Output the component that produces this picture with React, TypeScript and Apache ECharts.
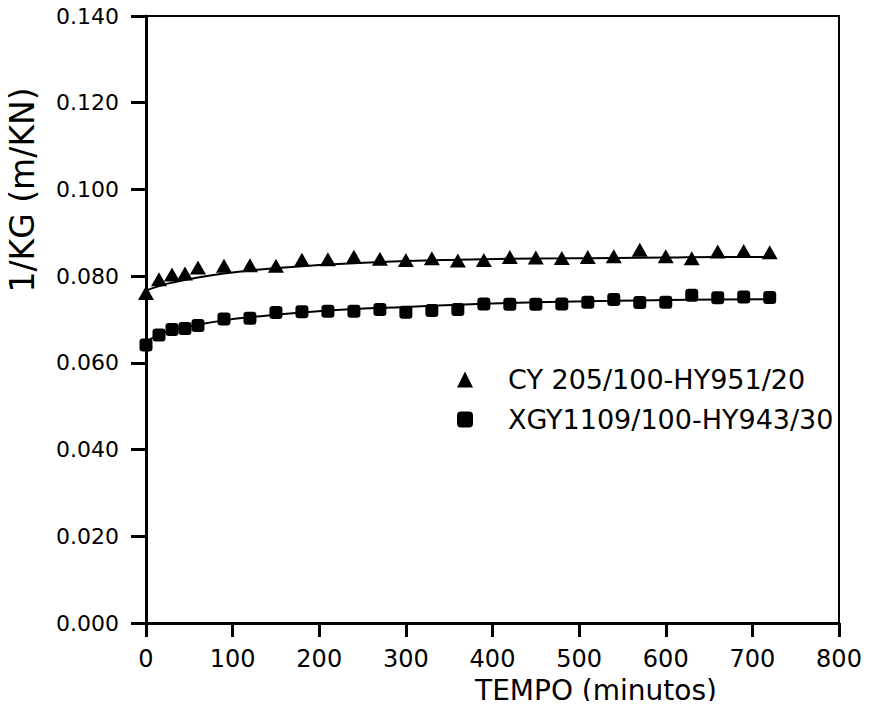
import React, { useEffect, useRef } from "react";
import * as echarts from "echarts";

const times = [0, 15, 30, 45, 60, 90, 120, 150, 180, 210, 240, 270, 300, 330, 360, 390, 420, 450, 480, 510, 540, 570, 600, 630, 660, 690, 720];
const cyValues = [0.0761, 0.0793, 0.0804, 0.0806, 0.082, 0.0824, 0.0825, 0.0824, 0.0838, 0.0839, 0.0845, 0.084, 0.0837, 0.0841, 0.0836, 0.0837, 0.0844, 0.0843, 0.0842, 0.0844, 0.0846, 0.0861, 0.0846, 0.0841, 0.0857, 0.0858, 0.0855];
const xgyValues = [0.0641, 0.0664, 0.0677, 0.0679, 0.0686, 0.0701, 0.0703, 0.0716, 0.0718, 0.0719, 0.0719, 0.0723, 0.0717, 0.0721, 0.0723, 0.0736, 0.0735, 0.0735, 0.0736, 0.074, 0.0746, 0.0739, 0.074, 0.0756, 0.075, 0.0752, 0.0751];

const fitTimes = [0, 15, 30, 60, 90, 120, 180, 240, 300, 360, 420, 480, 540, 600, 660, 720];
const cyFit = [0.0767, 0.0777, 0.0785, 0.0797, 0.0806, 0.0813, 0.0823, 0.083, 0.0835, 0.0838, 0.084, 0.0841, 0.0842, 0.0843, 0.0844, 0.0844];
const xgyFit = [0.0648, 0.0665, 0.0675, 0.0688, 0.0698, 0.0705, 0.0716, 0.0724, 0.0729, 0.0734, 0.0738, 0.0741, 0.0743, 0.0745, 0.0746, 0.0747];

const seriesNames = ["CY 205/100-HY951/20", "XGY1109/100-HY943/30"];
const xTicks = [0, 100, 200, 300, 400, 500, 600, 700, 800];
const yTicks = [0, 0.02, 0.04, 0.06, 0.08, 0.1, 0.12, 0.14];
const xTitle = "TEMPO (minutos)";
const yTitle = "1/KG (m/KN)";

const FONT = "DejaVu Sans";

export default function App() {
  const ref = useRef<HTMLDivElement>(null);
  useEffect(() => {
    if (!ref.current) return;
    const chart = echarts.init(ref.current, null, { renderer: "svg" });
    const pair = (xs: number[], ys: number[]) => xs.map((x, i) => [x, ys[i]]);
    chart.setOption({
      animation: false,
      backgroundColor: "#fff",
      grid: {
        left: 146,
        top: 16,
        right: 30,
        bottom: 86,
        show: true,
        borderColor: "#000",
        borderWidth: 2,
      },
      legend: {
        data: seriesNames,
        orient: "vertical",
        left: 452,
        top: 361,
        itemWidth: 16,
        itemHeight: 16,
        itemGap: 13,
        textStyle: { fontFamily: FONT, fontSize: 27, color: "#000", padding: [0, 0, 0, 30] },
      },
      xAxis: {
        type: "value",
        min: 0,
        max: 800,
        interval: 100,
        axisLine: { show: true, lineStyle: { color: "#000", width: 3 } },
        axisTick: { show: true, inside: false, length: 14, lineStyle: { color: "#000", width: 3 } },
        axisLabel: {
          fontFamily: FONT,
          fontSize: 24,
          color: "#000",
          margin: 24,
          formatter: (v: number) => (xTicks.includes(v) ? String(v) : ""),
        },
        splitLine: { show: false },
      },
      yAxis: {
        type: "value",
        min: 0,
        max: 0.14,
        interval: 0.02,
        axisLine: { show: true, lineStyle: { color: "#000", width: 3 } },
        axisTick: { show: true, inside: false, length: 15, lineStyle: { color: "#000", width: 3 } },
        axisLabel: {
          fontFamily: FONT,
          fontSize: 22,
          color: "#000",
          margin: 27,
          formatter: (v: number) => {
            const t = yTicks.find((y) => Math.abs(y - v) < 1e-9);
            return t === undefined ? "" : t.toFixed(3);
          },
        },
        splitLine: { show: false },
      },
      graphic: [
        {
          type: "text",
          x: 596,
          y: 690,
          style: {
            text: xTitle,
            fontFamily: FONT,
            fontSize: 28,
            fill: "#000",
            align: "center",
            verticalAlign: "middle",
          },
        },
        {
          type: "text",
          x: 22,
          y: 190,
          rotation: Math.PI / 2,
          style: {
            text: yTitle,
            fontFamily: FONT,
            fontSize: 33,
            fill: "#000",
            align: "center",
            verticalAlign: "middle",
          },
        },
      ],
      series: [
        {
          name: seriesNames[0] + " ajuste",
          type: "line",
          data: pair(fitTimes, cyFit),
          smooth: true,
          showSymbol: false,
          lineStyle: { color: "#000", width: 2 },
          z: 2,
        },
        {
          name: seriesNames[1] + " ajuste",
          type: "line",
          data: pair(fitTimes, xgyFit),
          smooth: true,
          showSymbol: false,
          lineStyle: { color: "#000", width: 2 },
          z: 2,
        },
        {
          name: seriesNames[0],
          type: "scatter",
          data: pair(times, cyValues),
          symbol: "triangle",
          symbolSize: [16, 14],
          itemStyle: { color: "#000", opacity: 1 },
          z: 3,
        },
        {
          name: seriesNames[1],
          type: "scatter",
          data: pair(times, xgyValues),
          symbol: "roundRect",
          symbolSize: 13,
          itemStyle: { color: "#000", opacity: 1 },
          z: 3,
        },
      ],
    });
    return () => chart.dispose();
  }, []);
  return <div ref={ref} style={{ width: 869, height: 709, margin: -8 }} />;
}
